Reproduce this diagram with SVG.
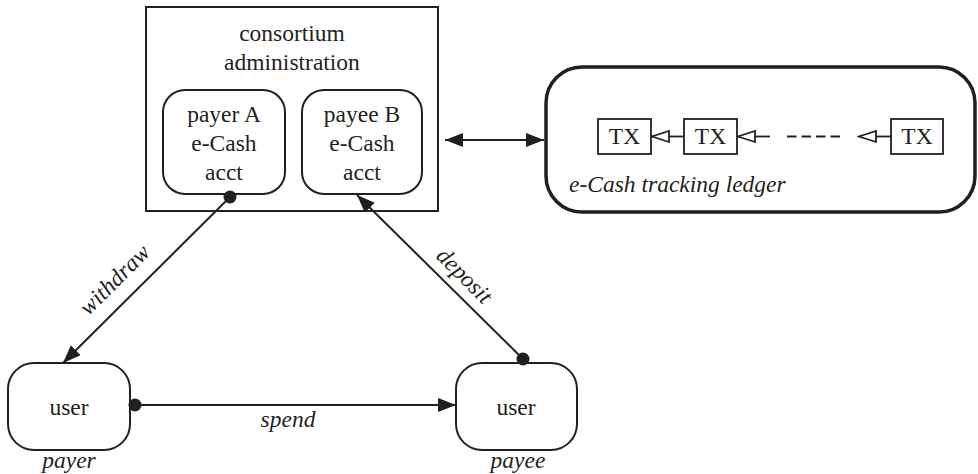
<svg xmlns="http://www.w3.org/2000/svg" width="978" height="474" viewBox="0 0 978 474">
<style>
  text { font-family: "Liberation Serif", "Times New Roman", serif; font-size: 23.5px; fill: #231f20; text-anchor: middle; }
  .it { font-style: italic; }
  .box { fill: #fff; stroke: #231f20; stroke-width: 2; }
  .ledger { fill: #fff; stroke: #231f20; stroke-width: 3.5; }
  .tx { fill: #fff; stroke: #231f20; stroke-width: 1.8; }
  .conn { fill: none; stroke: #231f20; stroke-width: 2; }
  .thin { fill: none; stroke: #231f20; stroke-width: 1.8; }
</style>
<defs>
  <marker id="arrow" markerUnits="userSpaceOnUse" markerWidth="20" markerHeight="16" refX="18" refY="7" orient="auto-start-reverse" viewBox="0 0 20 16">
    <path d="M0,0 L18,7 L0,14 z" fill="#231f20"/>
  </marker>
  <marker id="dot" markerUnits="userSpaceOnUse" markerWidth="14" markerHeight="14" refX="7" refY="7" orient="auto" viewBox="0 0 14 14">
    <circle cx="7" cy="7" r="6.5" fill="#231f20"/>
  </marker>
  <marker id="open" markerUnits="userSpaceOnUse" markerWidth="20" markerHeight="14" refX="18" refY="6.5" orient="auto" viewBox="0 0 20 14">
    <path d="M1,1 L18,6.5 L1,12 z" fill="#fff" stroke="#231f20" stroke-width="1.8"/>
  </marker>
</defs>

<g id="consortium">
  <rect class="box" x="146" y="7" width="292" height="204"/>
  <text x="292" y="41">consortium</text>
  <text x="292" y="70">administration</text>
</g>
<g id="payerA">
  <rect class="box" x="163" y="90" width="122" height="104" rx="22"/>
  <text x="224" y="122">payer A</text>
  <text x="224" y="151">e-Cash</text>
  <text x="224" y="180">acct</text>
</g>
<g id="payeeB">
  <rect class="box" x="302" y="90" width="120" height="104" rx="22"/>
  <text x="362" y="122">payee B</text>
  <text x="362" y="151">e-Cash</text>
  <text x="362" y="180">acct</text>
</g>
<g id="ledger">
  <rect class="ledger" x="546" y="67" width="429" height="145" rx="36"/>
  <text class="it" x="569" y="192" style="text-anchor:start">e-Cash tracking ledger</text>
</g>
<g id="tx1">
  <rect class="tx" x="598" y="119" width="53" height="35"/>
  <text x="624.5" y="144">TX</text>
</g>
<g id="tx2">
  <rect class="tx" x="684" y="119" width="53" height="35"/>
  <text x="710.5" y="144">TX</text>
</g>
<g id="tx3">
  <rect class="tx" x="891" y="119" width="52" height="35"/>
  <text x="917" y="144">TX</text>
</g>
<g id="userPayer">
  <rect class="box" x="8" y="363" width="122" height="87" rx="26"/>
  <text x="69" y="415">user</text>
  <text class="it" x="69" y="468">payer</text>
</g>
<g id="userPayee">
  <rect class="box" x="456" y="363" width="121" height="87" rx="26"/>
  <text x="516" y="415">user</text>
  <text class="it" x="518" y="468">payee</text>
</g>

<g id="connectors">
  <line class="conn" x1="230" y1="197" x2="63" y2="363" marker-start="url(#dot)" marker-end="url(#arrow)"/>
  <line class="conn" x1="523" y1="359" x2="357" y2="195" marker-start="url(#dot)" marker-end="url(#arrow)"/>
  <line class="conn" x1="135" y1="405" x2="456" y2="405" marker-start="url(#dot)" marker-end="url(#arrow)"/>
  <line class="conn" x1="445" y1="140" x2="544" y2="140" marker-start="url(#arrow)" marker-end="url(#arrow)"/>
  <line class="thin" x1="684" y1="136.5" x2="652" y2="136.5" marker-end="url(#open)"/>
  <line class="thin" x1="770" y1="136.5" x2="738" y2="136.5" marker-end="url(#open)"/>
  <line class="thin" x1="787" y1="136.5" x2="841" y2="136.5" stroke-dasharray="9.5,5"/>
  <line class="thin" x1="891" y1="136.5" x2="859" y2="136.5" marker-end="url(#open)"/>
  <text class="it" x="0" y="0" transform="translate(120,285) rotate(-45)">withdraw</text>
  <text class="it" x="0" y="0" transform="translate(459,281) rotate(45)">deposit</text>
  <text class="it" x="288" y="427">spend</text>
</g>
</svg>
